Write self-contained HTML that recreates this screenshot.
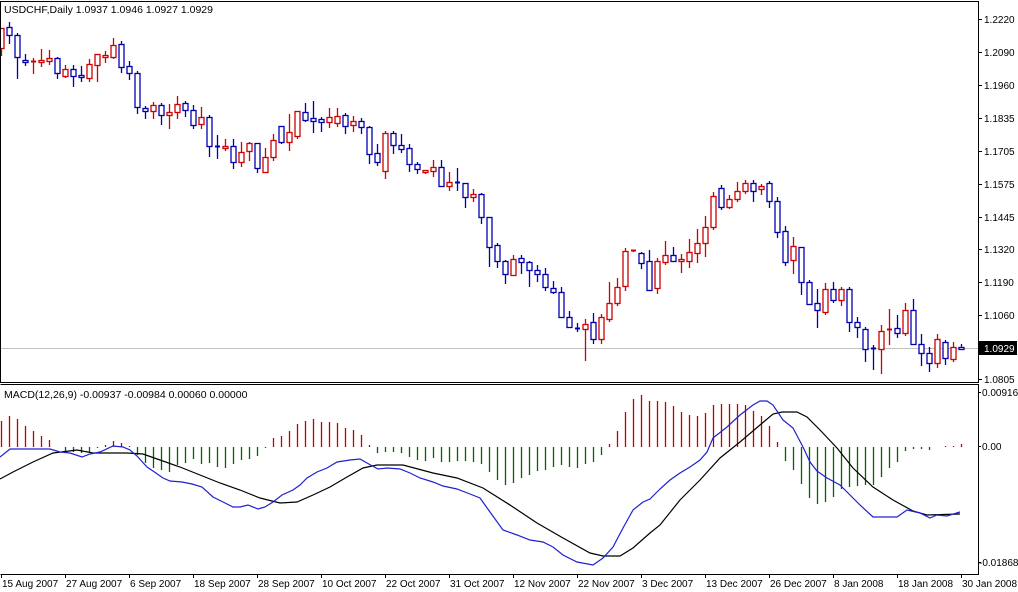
<!DOCTYPE html>
<html><head><meta charset="utf-8"><style>
html,body{margin:0;padding:0;background:#fff;}
svg{display:block;font-family:"Liberation Sans",sans-serif;font-size:10.5px;}
.ax{font-size:10px;}
</style></head><body>
<svg id="s" width="1018" height="592" xmlns="http://www.w3.org/2000/svg">
<rect width="1018" height="592" fill="#fff"/>
<line x1="0" y1="348.5" x2="978" y2="348.5" stroke="#c0c0c0"/>
<g id="c"></g>
<g id="h"></g>
<g id="l"></g>
<path d="M0.5 1.5H978.5V382.5H0.5Z" fill="none" stroke="#000"/>
<path d="M0.5 384.5H978.5V574.5H0.5" fill="none" stroke="#000"/>
<g fill="#000">
<text x="4" y="13">USDCHF,Daily  1.0937 1.0946 1.0927 1.0929</text>
<text x="4" y="398">MACD(12,26,9) -0.00937 -0.00984 0.00060 0.00000</text>
</g>
<g fill="#000" class="ax">
<text x="984" y="23">1.2220</text>
<text x="984" y="56">1.2090</text>
<text x="984" y="89">1.1960</text>
<text x="984" y="122">1.1835</text>
<text x="984" y="155">1.1705</text>
<text x="984" y="188">1.1575</text>
<text x="984" y="221">1.1445</text>
<text x="984" y="253">1.1320</text>
<text x="984" y="286">1.1190</text>
<text x="984" y="319">1.1060</text>
<text x="984" y="383">1.0805</text>
<text x="982" y="396">0.00916</text>
<text x="982" y="450">0.00</text>
<text x="979" y="566">-0.01868</text>
</g>
<rect x="979" y="341" width="38" height="14" fill="#000"/>
<text x="984" y="352" fill="#fff" class="ax">1.0929</text>
<g id="t" class="ax"></g>
</svg>
<script>
var NS="http://www.w3.org/2000/svg";
function el(p,n,a,txt){var e=document.createElementNS(NS,n);for(var k in a)e.setAttribute(k,a[k]);if(txt)e.textContent=txt;p.appendChild(e);return e;}
var C=[[28,48,28,55,'r'],[27,35,22,43,'b'],[35,57,33,78,'b'],[60,62,54,65,'b'],[61,62,58,73,'r'],[60,62,49,66,'r'],[58,61,50,64,'r'],[58,73,57,78,'b'],[69,76,65,77,'r'],[69,76,65,86,'b'],
[75,77,66,81,'b'],[64,78,59,81,'r'],[54,65,54,81,'r'],[55,57,51,62,'r'],[45,57,38,58,'r'],[44,67,41,72,'b'],[66,73,61,79,'b'],[73,107,71,113,'b'],[108,111,106,118,'b'],[105,111,102,118,'r'],
[105,115,103,124,'b'],[112,115,104,128,'r'],[104,112,96,118,'r'],[103,110,101,116,'b'],[110,125,105,128,'b'],[117,124,107,128,'r'],[117,146,115,156,'b'],[146,147,135,158,'b'],[146,148,139,150,'r'],[146,162,139,168,'b'],
[152,162,142,166,'r'],[143,151,142,160,'r'],[143,168,143,172,'b'],[157,172,148,172,'r'],[140,157,134,160,'r'],[126,142,126,143,'b'],[132,142,114,150,'r'],[111,136,111,138,'r'],[112,120,103,121,'b'],[118,121,101,132,'b'],
[119,122,117,131,'b'],[117,122,108,127,'r'],[116,123,108,126,'r'],[115,126,113,133,'b'],[121,125,116,131,'r'],[121,127,118,133,'b'],[127,154,126,163,'b'],[153,162,144,165,'b'],[133,171,131,178,'r'],[133,145,131,153,'b'],
[145,149,134,152,'b'],[148,164,144,171,'b'],[164,169,162,173,'b'],[170,172,170,173,'r'],[167,171,160,176,'r'],[167,186,160,186,'b'],[182,186,172,190,'r'],[182,183,168,190,'b'],[183,197,183,207,'b'],[194,197,189,201,'r'],
[194,217,193,223,'b'],[217,247,217,266,'b'],[245,261,243,267,'b'],[261,274,260,283,'b'],[259,275,255,275,'r'],[258,262,255,273,'b'],[262,270,261,286,'b'],[270,274,265,281,'b'],[274,287,268,290,'b'],[288,292,281,293,'b'],
[292,317,287,317,'b'],[317,327,311,327,'b'],[328,329,323,331,'b'],[324,329,319,360,'r'],[322,339,313,343,'b'],[317,339,314,343,'r'],[303,319,282,321,'r'],[287,303,278,305,'r'],[251,286,248,290,'r'],[250,251,250,251,'r'],
[253,263,252,268,'b'],[261,290,250,290,'b'],[261,288,258,293,'r'],[255,262,241,264,'r'],[255,261,247,261,'b'],[259,261,254,272,'r'],[252,261,239,267,'r'],[243,253,229,262,'r'],[227,243,216,256,'r'],[196,227,192,229,'r'],
[188,207,185,209,'b'],[199,207,195,208,'r'],[191,199,182,201,'r'],[183,191,180,193,'r'],[183,191,180,201,'b'],[186,189,184,194,'r'],[183,201,181,207,'b'],[201,232,197,237,'b'],[231,262,226,265,'b'],[246,260,237,273,'r'],
[247,282,247,294,'b'],[282,304,280,304,'b'],[303,310,289,327,'b'],[289,312,283,314,'r'],[289,300,282,302,'b'],[289,300,287,305,'r'],[289,322,287,331,'b'],[322,327,317,337,'b'],[329,349,327,361,'b'],[348,349,345,369,'b'],
[331,349,325,373,'r'],[329,330,309,344,'r'],[328,333,315,337,'b'],[310,333,303,335,'r'],[310,344,299,344,'b'],[344,353,334,365,'b'],[353,363,347,371,'b'],[339,363,334,367,'r'],[342,358,340,364,'b'],[347,359,342,361,'r'],[347,349,344,349,'b']];
var g=document.getElementById('c');
C.forEach(function(d,i){var x=1+8*i;var col=d[4]=='r'?'#d00000':'#0000b0';
el(g,'line',{x1:x+.5,y1:d[2],x2:x+.5,y2:d[3]+1,stroke:col,'stroke-width':1.3});
if(d[1]-d[0]<=1){el(g,'line',{x1:x-2,y1:d[0]+.5,x2:x+3,y2:d[0]+.5,stroke:col,'stroke-width':2});}
else el(g,'rect',{x:x-2,y:d[0]+.5,width:5,height:d[1]-d[0],fill:'#fff',stroke:col,'stroke-width':1.3});});
var H=[421,416,419,426,431,436,440,447,451,452,453,452,448,445,441,443,446,455,463,468,470,472,465,463,459,464,463,467,468,464,460,459,456,448,438,436,431,424,421,419,422,422,423,428,430,435,445,453,452,452,453,457,460,461,458,462,462,461,461,462,464,472,480,485,483,478,475,471,470,467,465,467,468,464,462,455,444,431,412,399,395,401,401,402,406,412,415,416,413,405,404,404,404,405,411,416,426,442,461,470,484,498,504,502,497,489,487,486,485,485,477,468,462,451,449,449,450,447,446,446,444];
var hg=document.getElementById('h');
H.forEach(function(v,i){var x=1.5+8*i;if(Math.abs(v-447)<1)return;var col=v<447?'#c00000':'#006400';el(hg,'line',{x1:x,y1:447,x2:x,y2:v,stroke:col,'stroke-width':1.3});});
var lg=document.getElementById('l');
var B="0,457 10,449 50,449 60,452 70,453 82,457 90,454 100,452 113,446 123,447 130,450 137,456 147,467 153,471 163,478 170,481 182,482 192,484 202,487 213,497 223,502 233,507 240,507 248,505 258,509 265,507 273,502 282,495 293,490 300,485 307,478 317,472 327,468 337,462 350,460 360,459 367,463 378,469 387,468 400,469 410,473 420,478 433,482 443,486 457,489 470,494 480,498 490,512 503,530 517,535 530,540 543,542 553,547 563,555 577,562 593,565 603,558 613,547 623,528 633,510 643,502 650,499 660,489 670,480 680,473 690,467 700,460 707,452 713,438 727,427 740,415 753,405 760,401 767,401 773,405 783,420 793,428 803,447 810,462 817,471 827,478 840,485 850,495 860,505 873,517 897,517 907,510 920,513 930,518 937,515 947,516 960,512";
var K="0,479 13,472 33,462 53,453 77,450 93,453 127,453 143,454 160,460 180,467 200,475 220,483 240,490 260,498 280,503 297,502 313,495 330,487 347,477 363,468 377,465 403,465 433,473 457,478 483,488 510,505 537,523 563,538 590,553 603,556 620,556 633,548 650,533 660,525 680,500 700,480 720,458 740,442 760,425 773,414 782,412 797,412 807,417 820,430 837,448 853,468 873,487 893,500 913,511 927,515 960,514";
el(lg,'polyline',{points:K,fill:'none',stroke:'#000','stroke-width':1.2});
el(lg,'polyline',{points:B,fill:'none',stroke:'#2020d0','stroke-width':1.2});
var tg=document.getElementById('t');
var D=["15 Aug 2007","27 Aug 2007","6 Sep 2007","18 Sep 2007","28 Sep 2007","10 Oct 2007","22 Oct 2007","31 Oct 2007","12 Nov 2007","22 Nov 2007","3 Dec 2007","13 Dec 2007","26 Dec 2007","8 Jan 2008","18 Jan 2008","30 Jan 2008"];
D.forEach(function(s,i){var x=1+64*i;el(tg,'line',{x1:x+.5,y1:574,x2:x+.5,y2:578,stroke:'#000'});el(tg,'text',{x:x+1,y:587,fill:'#000'},s);});
[19,52,85,118,151,184,217,249,282,315,379].forEach(function(y){el(tg,'line',{x1:978,y1:y+.5,x2:982,y2:y+.5,stroke:'#000'});});
[392,446,562].forEach(function(y){el(tg,'line',{x1:978,y1:y+.5,x2:981,y2:y+.5,stroke:'#000'});});
</script>
</body></html>
